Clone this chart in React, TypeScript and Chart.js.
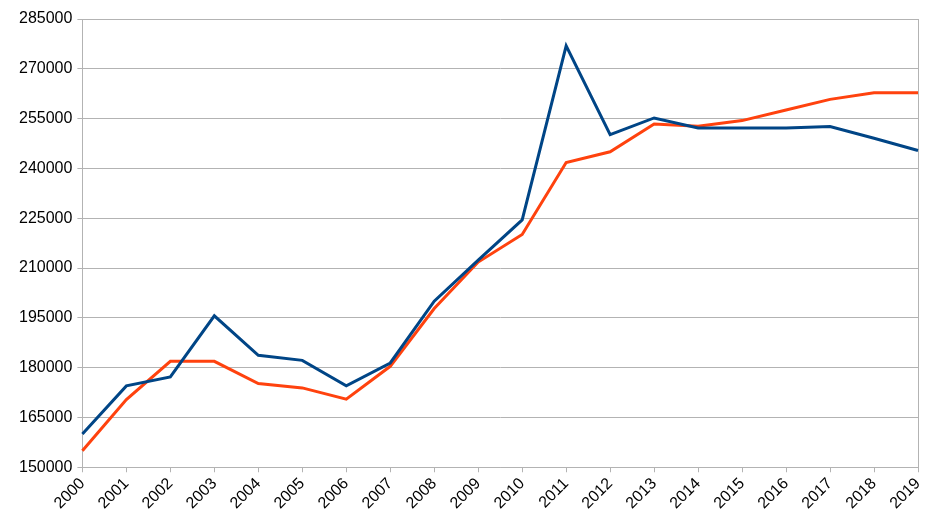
import { useEffect, useRef } from "react";
import { Chart, registerables } from "chart.js";

Chart.register(...registerables);

const years = [
  "2000", "2001", "2002", "2003", "2004", "2005", "2006", "2007", "2008", "2009",
  "2010", "2011", "2012", "2013", "2014", "2015", "2016", "2017", "2018", "2019",
];

const blueSeries = [
  160000, 174500, 177200, 195600, 183700, 182200, 174500, 181400, 200000, 212400,
  224500, 276900, 250200, 255200, 252200, 252200, 252200, 252600, 249100, 245400,
];

const orangeSeries = [
  155000, 170400, 181900, 181900, 175200, 173900, 170500, 180400, 197800, 211800,
  220100, 241800, 245000, 253400, 252700, 254400, 257600, 260800, 262800, 262800,
];

const yMin = 150000;
const yMax = 285000;
const yStep = 15000;

const App = () => {
  const chartRef = useRef<HTMLCanvasElement | null>(null);

  useEffect(() => {
    document.body.style.margin = "0";
    const ctx = chartRef.current!.getContext("2d")!;

    const chart = new Chart(ctx, {
      type: "line",
      data: {
        labels: years,
        datasets: [
          {
            label: "Series 1",
            data: blueSeries,
            borderColor: "#004586",
            backgroundColor: "#004586",
            borderWidth: 3,
            pointRadius: 0,
            tension: 0,
          },
          {
            label: "Series 2",
            data: orangeSeries,
            borderColor: "#ff420e",
            backgroundColor: "#ff420e",
            borderWidth: 3,
            pointRadius: 0,
            tension: 0,
          },
        ],
      },
      options: {
        responsive: true,
        maintainAspectRatio: false,
        animation: false,
        layout: {
          padding: { left: 14, top: 19, right: 25, bottom: 15 },
        },
        plugins: {
          legend: { display: false },
          tooltip: { enabled: false },
        },
        scales: {
          x: {
            offset: false,
            grid: {
              color: (c: any) =>
                c.index === years.length - 1 ? "#b3b3b3" : "rgba(0,0,0,0)",
              tickColor: "#b3b3b3",
              tickLength: 5,
            },
            border: { color: "#b3b3b3" },
            ticks: {
              autoSkip: false,
              maxRotation: 45,
              minRotation: 45,
              color: "#000",
              padding: 2,
              font: { family: "Liberation Sans", size: 16 },
            },
          },
          y: {
            min: yMin,
            max: yMax,
            grid: {
              color: "#b3b3b3",
              tickColor: "#b3b3b3",
              tickLength: 5,
            },
            border: { color: "#b3b3b3" },
            ticks: {
              stepSize: yStep,
              color: "#000",
              padding: 5,
              font: { family: "Liberation Sans", size: 16 },
              callback: (v: any) => String(v),
            },
          },
        },
      },
    });

    return () => {
      chart.destroy();
    };
  }, []);

  return (
    <div style={{ width: "943px", height: "530px" }}>
      <canvas ref={chartRef}></canvas>
    </div>
  );
};

export default App;
